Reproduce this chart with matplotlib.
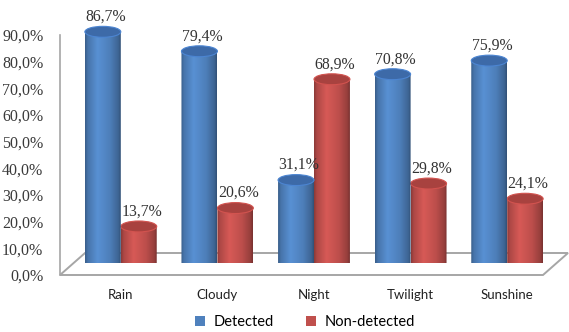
import numpy as np
import matplotlib
matplotlib.use("Agg")
import matplotlib.pyplot as plt
from matplotlib.patches import Ellipse, Polygon, Patch
from matplotlib.path import Path
from matplotlib.colors import LinearSegmentedColormap, to_rgb

categories = ["Rain", "Cloudy", "Night", "Twilight", "Sunshine"]
detected = [86.7, 79.4, 31.1, 70.8, 75.9]
non_detected = [13.7, 20.6, 68.9, 29.8, 24.1]
series_names = ["Detected", "Non-detected"]
y_ticks = [0, 10, 20, 30, 40, 50, 60, 70, 80, 90]
y_tick_labels = ["0,0%", "10,0%", "20,0%", "30,0%", "40,0%",
                 "50,0%", "60,0%", "70,0%", "80,0%", "90,0%"]

BLUE = "#4F81BD"
RED = "#C0504D"
BLUE_CAP = "#3D6AA8"
RED_CAP = "#A8423F"

W, H, DPI = 569, 332, 100
fig = plt.figure(figsize=(W / DPI, H / DPI), dpi=DPI)
fig.patch.set_facecolor("white")

SERIF = "Liberation Serif"
SANS = "Lato"


def frac(x0, y0, x1, y1):
    """Pixel box (left, top, right, bottom) to figure fraction rect."""
    return [x0 / W, 1 - y1 / H, (x1 - x0) / W, (y1 - y0) / H]


# front plane: value axis and floor
ax_front = fig.add_axes(frac(60, 35, 543, 275))
# middle depth plane: the cylinders
ax_bar = fig.add_axes(frac(72.5, 23, 555.5, 263))
ax_bar.patch.set_visible(False)

n = len(categories)
xlim = (-0.5, n - 0.5)
ylim = (0, 90)

ax_front.set_xlim(*xlim)
ax_front.set_ylim(*ylim)
ax_front.set_yticks(y_ticks)
ax_front.set_yticklabels(y_tick_labels, fontfamily=SERIF, fontsize=11.5,
                         color="#3a3a3a")
ax_front.tick_params(axis="y", length=0, pad=12)
ax_front.set_xticks([])
for side in ("top", "right", "bottom"):
    ax_front.spines[side].set_visible(False)
ax_front.spines["left"].set_color("#A6A6A6")
ax_front.spines["left"].set_linewidth(1.2)

# floor parallelogram
dx = 25 / 96.6
dy = 22 / 2.667
floor = Polygon([(xlim[0], 0), (xlim[1], 0), (xlim[1] + dx, dy), (xlim[0] + dx, dy)],
                closed=True, facecolor="white", edgecolor="#A6A6A6",
                linewidth=1.4, clip_on=False, zorder=1)
ax_front.add_patch(floor)


def shade_cmap(color):
    r, g, b = to_rgb(color)

    def sc(f):
        return tuple(min(1, c * f) for c in (r, g, b))
    return LinearSegmentedColormap.from_list(
        "cyl", [(0.0, sc(0.72)), (0.08, sc(0.9)), (0.35, sc(1.12)),
                (0.7, sc(0.98)), (0.93, sc(0.78)), (1.0, sc(0.62))])


CAP_H = 4.1   # ellipse height in value units
BAR_W = 0.372


def cylinder(ax, xc, h, color, cap_color, z):
    left, right = xc - BAR_W / 2, xc + BAR_W / 2
    t = np.linspace(np.pi, 2 * np.pi, 40)
    bottom = np.column_stack([xc + BAR_W / 2 * np.cos(t), CAP_H / 2 * np.sin(t)])
    verts = np.vstack([[left, h], bottom, [right, h], [left, h]])
    codes = [Path.MOVETO] + [Path.LINETO] * (len(verts) - 2) + [Path.CLOSEPOLY]
    body_path = Path(verts, codes)
    grad = np.linspace(0, 1, 256).reshape(1, -1)
    im = ax.imshow(grad, cmap=shade_cmap(color), aspect="auto",
                   extent=(left, right, -CAP_H / 2, h), zorder=z,
                   interpolation="bilinear")
    im.set_clip_path(body_path, transform=ax.transData)
    cap = Ellipse((xc, h), BAR_W, CAP_H, facecolor=cap_color,
                  edgecolor=tuple(min(1, c * 1.25) for c in to_rgb(cap_color)),
                  linewidth=0.8, zorder=z + 0.5)
    ax.add_patch(cap)


x = np.arange(n)
for i in range(n):
    xb = x[i] - BAR_W / 2
    xr = x[i] + BAR_W / 2
    cylinder(ax_bar, xr, non_detected[i], RED, RED_CAP, 2)
    cylinder(ax_bar, xb, detected[i], BLUE, BLUE_CAP, 3)
    for xc, v in ((xb, detected[i]), (xr, non_detected[i])):
        ax_bar.annotate(f"{v:.1f}%".replace(".", ","), (xc, v),
                        xytext=(2, 5), textcoords="offset points",
                        ha="center", va="bottom", fontfamily=SERIF,
                        fontsize=11.3, color="#333333", zorder=6,
                        annotation_clip=False)

ax_bar.set_xlim(*xlim)
ax_bar.set_ylim(*ylim)
ax_bar.set_yticks([])
ax_bar.set_xticks(x)
ax_bar.set_xticklabels(categories, fontfamily=SANS, fontsize=9.5, color="#222222")
ax_bar.tick_params(axis="x", length=0, pad=19)
for side in ax_bar.spines.values():
    side.set_visible(False)

handles = [Patch(facecolor=BLUE, edgecolor="none"),
           Patch(facecolor=RED, edgecolor="none")]
fig.legend(handles, series_names, loc="center", ncol=2,
           bbox_to_anchor=(305 / W, 1 - 322 / H), frameon=False,
           prop={"family": SANS, "size": 10.5}, handlelength=0.7,
           handleheight=0.7, handletextpad=0.6, columnspacing=2.2)

fig.savefig("out.png", dpi=DPI)
